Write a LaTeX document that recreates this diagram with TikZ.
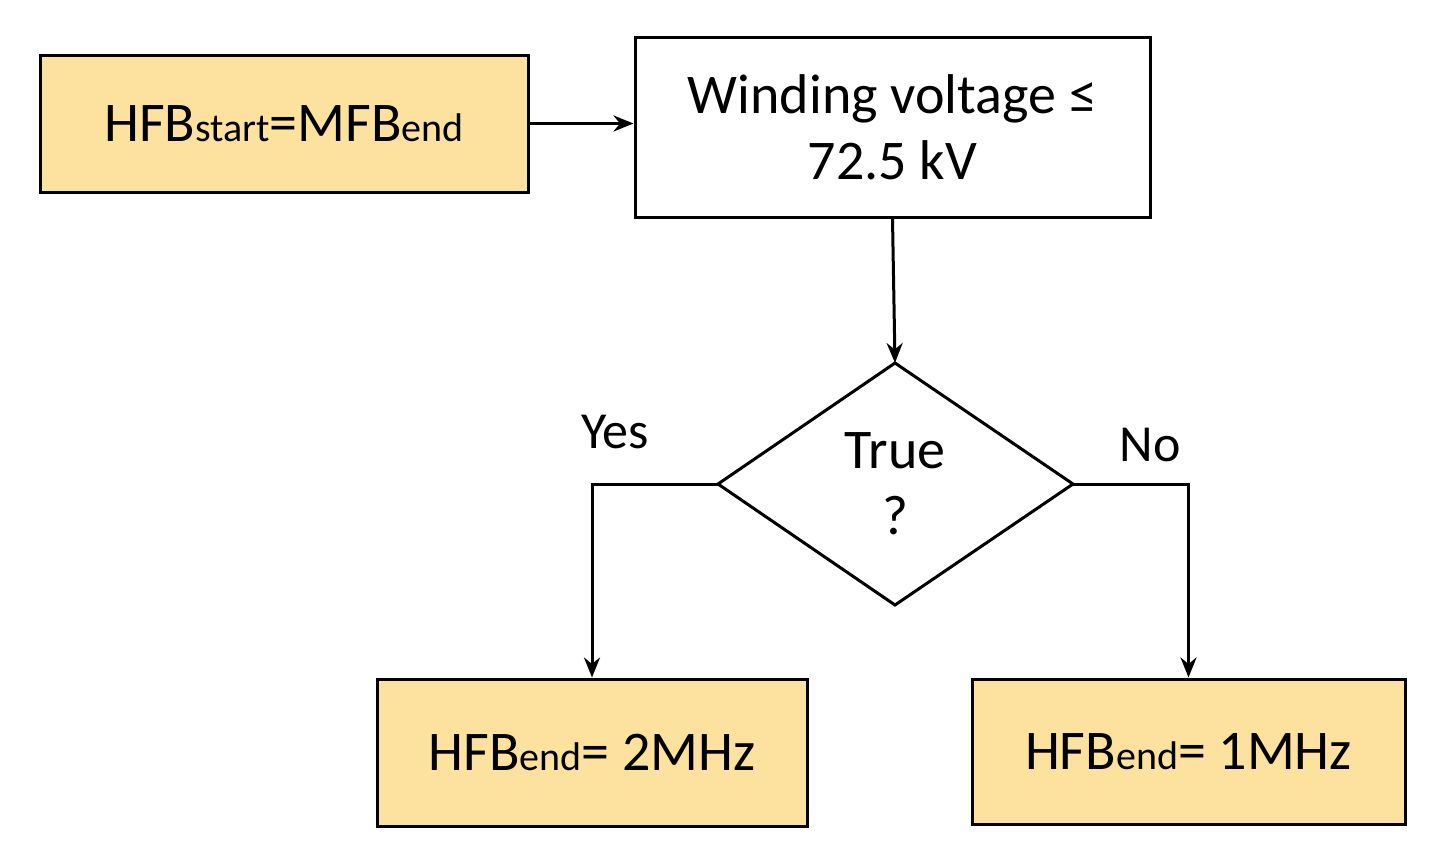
\documentclass[tikz,border=0pt]{standalone}
\usepackage{fontspec}
\setmainfont{Carlito}
\usetikzlibrary{arrows.meta}
\definecolor{fillY}{HTML}{FCE29E}
\begin{document}
\begin{tikzpicture}[x=1pt,y=-1pt,
  box/.style={draw=black,line width=3pt,fill=fillY},
  wbox/.style={draw=black,line width=3pt,fill=white},
  conn/.style={line width=3pt,-{Stealth[length=20pt,width=16pt]}},
  txt/.style={font=\fontsize{56}{66}\selectfont,align=center},
  lbl/.style={font=\fontsize{52}{60}\selectfont}]
\useasboundingbox (0,0) rectangle (1434,854);
\newcommand{\sm}[1]{{\fontsize{40}{40}\selectfont #1}}
\node[box,minimum width=488pt,minimum height=137pt,txt] (start) at (284,123.5) {HFB\sm{start}=MFB\sm{end}};
\node[wbox,minimum width=515pt,minimum height=180pt,txt] (wind) at (892.5,127) {Winding voltage ≤\\72.5 kV};
\coordinate (dc) at (895,484);
\draw[line width=3pt,fill=white] (718,484) coordinate (dl) -- (895,363) coordinate (dt) -- (1073,484) coordinate (dr) -- (895,605) -- cycle;
\node[txt] (dtext) at (895,484) {True\\?};
\node[box,minimum width=430pt,minimum height=147pt,txt] (yes) at (592,752.5) {HFB\sm{end}= 2MHz};
\node[box,minimum width=433pt,minimum height=145pt,txt] (no) at (1188.5,751.5) {HFB\sm{end}= 1MHz};
\draw[conn] (start.east) -- (wind.west |- start.east);
\draw[conn] (wind.south) -- (dt);
\draw[conn] (dl) -| (yes.north);
\draw[conn] (dr) -| (no.north);
\node[lbl] (ylbl) at (615,432) {Yes};
\node[lbl] (nlbl) at (1150,445) {No};
\end{tikzpicture}
\end{document}
